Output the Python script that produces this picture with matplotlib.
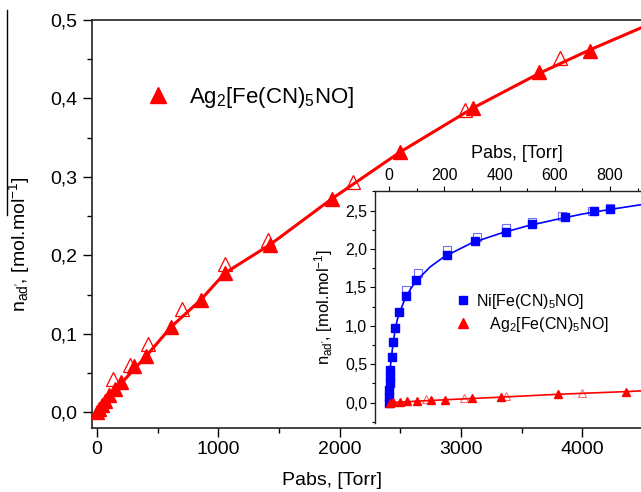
import matplotlib
matplotlib.use("Agg")
import matplotlib.pyplot as plt
from matplotlib.lines import Line2D
from matplotlib.ticker import MultipleLocator, FuncFormatter

# Ag2[Fe(CN)5NO] adsorption (filled) / desorption (open), Pabs in Torr
ag_ads_p = [3, 16, 40, 64, 101, 151, 201, 302, 404, 610, 857, 1055, 1426, 1935, 2498, 3102, 3646, 4064]
ag_ads_n = [0.001, 0.004, 0.009, 0.015, 0.022, 0.030, 0.039, 0.0586, 0.0713, 0.1087, 0.1435, 0.1775,
            0.2136, 0.272, 0.3316, 0.388, 0.4335, 0.460]
ag_des_p = [135, 272, 423, 698, 1055, 1412, 2108, 3034, 3817]
ag_des_n = [0.043, 0.060, 0.0866, 0.132, 0.189, 0.219, 0.293, 0.3847, 0.452]
# fitted curve
ag_fit_p = [0, 200, 404, 610, 857, 1055, 1426, 1935, 2498, 3102, 3646, 4064, 4500]
ag_fit_n = [0.0, 0.037, 0.0713, 0.1087, 0.1435, 0.1775, 0.2136, 0.272, 0.3316, 0.388, 0.432, 0.462, 0.491]

# Ni[Fe(CN)5NO] (inset)
ni_ads_p = [0.5, 1, 1.5, 2, 3, 4.5, 9.7, 15.7, 21.7, 37, 60, 99, 210, 310, 422, 516, 637, 743, 800]
ni_ads_n = [0.0, 0.075, 0.16, 0.25, 0.34, 0.43, 0.60, 0.795, 0.978, 1.175, 1.39, 1.598, 1.918, 2.10,
            2.216, 2.327, 2.412, 2.50, 2.52]
ni_des_p = [60, 104, 209, 317, 422, 516, 628, 734, 800]
ni_des_n = [1.467, 1.685, 1.99, 2.16, 2.275, 2.357, 2.43, 2.50, 2.535]
ni_fit_p = [0, 1, 2, 3, 5, 8, 12, 16, 22, 30, 40, 60, 80, 100, 150, 200, 300, 400, 500, 600, 700, 800, 910]
ni_fit_n = [0.0, 0.12, 0.25, 0.35, 0.47, 0.57, 0.69, 0.79, 0.95, 1.08, 1.19, 1.37, 1.49, 1.59, 1.77,
            1.90, 2.08, 2.20, 2.30, 2.38, 2.455, 2.515, 2.575]

ag_label = r"Ag$_2$[Fe(CN)$_5$NO]"
ni_label = r"Ni[Fe(CN)$_5$NO]"
ylabel = r"n$_{\mathrm{ad'}}$, [mol.mol$^{\mathrm{-1}}$]"
xlabel = "Pabs, [Torr]"

plt.rcParams["font.family"] = ["Liberation Sans", "DejaVu Sans"]
plt.rcParams["mathtext.fontset"] = "custom"
plt.rcParams["mathtext.rm"] = "Liberation Sans"
plt.rcParams["mathtext.it"] = "Liberation Sans:italic"
plt.rcParams["mathtext.bf"] = "Liberation Sans:bold"

RED = "#ff0000"
BLUE = "#0000ff"
comma = FuncFormatter(lambda v, _: f"{v:.1f}".replace(".", ","))

W, H = 641, 492
fig = plt.figure(figsize=(W / 100, H / 100), dpi=100)


def px_box(left, top, right, bottom):
    return [left / W, 1 - bottom / H, (right - left) / W, (bottom - top) / H]


# Main axes
ax = fig.add_axes(px_box(92, 20, 645, 428))
ax.plot(ag_fit_p, ag_fit_n, "-", color=RED, lw=2.2, zorder=3)
ax.plot(ag_des_p, ag_des_n, "^", ms=10, mfc="none", mec=RED, mew=0.9, zorder=2)
ax.plot(ag_ads_p, ag_ads_n, "^", ms=10, color=RED, zorder=4)
ax.set_xlim(-41, 4518)
ax.set_ylim(-0.02, 0.5)
ax.spines["right"].set_visible(False)
for s in ("left", "bottom", "top"):
    ax.spines[s].set_linewidth(1.2)
    ax.spines[s].set_color("#222222")
ax.xaxis.set_major_locator(MultipleLocator(1000))
ax.xaxis.set_minor_locator(MultipleLocator(500))
ax.yaxis.set_major_locator(MultipleLocator(0.1))
ax.yaxis.set_minor_locator(MultipleLocator(0.05))
ax.yaxis.set_major_formatter(comma)
ax.tick_params(which="both", direction="out", labelsize=14, width=1)
ax.tick_params(which="major", length=6.5, pad=4)
ax.tick_params(which="minor", length=3.5)
ax.tick_params(axis="x", pad=3)
ax.set_xlabel(xlabel, fontsize=14)
ax.xaxis.set_label_coords(0.434, -0.108)
ax.set_ylabel(ylabel, fontsize=14)
ax.yaxis.set_label_coords(-0.108, 0.45)

h_main = Line2D([], [], ls="none", marker="^", ms=12, color=RED)
ax.legend([h_main], [ag_label], loc="center left", bbox_to_anchor=((147 - 92) / 553, (428 - 97) / 408),
          frameon=False, fontsize=16, handlelength=1, handletextpad=0.9, borderpad=0, borderaxespad=0)

# Inset
ins = fig.add_axes(px_box(375, 191, 660, 423))
ins.set_facecolor("white")
ins.plot(ni_fit_p, ni_fit_n, "-", color=BLUE, lw=1.2, zorder=3)
ins.plot(ni_des_p, ni_des_n, "s", ms=5.5, mfc="none", mec="#6f6ff5", mew=0.8, zorder=2)
ins.plot(ni_ads_p, ni_ads_n, "s", ms=5.5, color=BLUE, zorder=4)
ins.plot(ag_fit_p, ag_fit_n, "-", color=RED, lw=1.2, zorder=3)
ins.plot(ag_des_p, ag_des_n, "^", ms=6, mfc="none", mec="#ff6f6f", mew=0.8, zorder=2)
ins.plot(ag_ads_p, ag_ads_n, "^", ms=6, color=RED, zorder=4)
ins.set_xlim(-50.7, 981)
ins.set_ylim(-0.265, 2.755)
ins.spines["right"].set_visible(False)
ins.spines["bottom"].set_visible(False)
for s in ("left", "top"):
    ins.spines[s].set_linewidth(1.0)
    ins.spines[s].set_color("#222222")
ins.xaxis.tick_top()
ins.xaxis.set_label_position("top")
ins.xaxis.set_major_locator(MultipleLocator(200))
ins.xaxis.set_minor_locator(MultipleLocator(100))
ins.yaxis.set_major_locator(MultipleLocator(0.5))
ins.yaxis.set_minor_locator(MultipleLocator(0.25))
ins.yaxis.set_major_formatter(comma)
ins.tick_params(which="both", direction="out", labelsize=11.5, width=0.8, pad=2)
ins.tick_params(which="major", length=3.5)
ins.tick_params(which="minor", length=2)
ins.set_xlabel(xlabel, fontsize=13)
ins.xaxis.set_label_coords((517 - 375) / 285, (423 - 158) / 232)
ins.set_ylabel(ylabel, fontsize=12)
ins.yaxis.set_label_coords(-0.142, 0.5)

h_ni = Line2D([], [], ls="none", marker="s", ms=6, color=BLUE)
h_ag = Line2D([], [], ls="none", marker="^", ms=7, color=RED)
ins.legend([h_ni, h_ag], [ni_label, "   " + ag_label], loc="center left",
           bbox_to_anchor=((455 - 375) / 285, (423 - 312.9) / 232), frameon=False, fontsize=11.5,
           handlelength=1, handletextpad=0.3, borderpad=0, borderaxespad=0, labelspacing=0.25)

# stray vertical rule at the left edge
fig.add_artist(Line2D([7 / W, 7 / W], [1 - 10 / H, 1 - 215 / H], color="black", lw=1))

fig.savefig("out.png", dpi=100)
